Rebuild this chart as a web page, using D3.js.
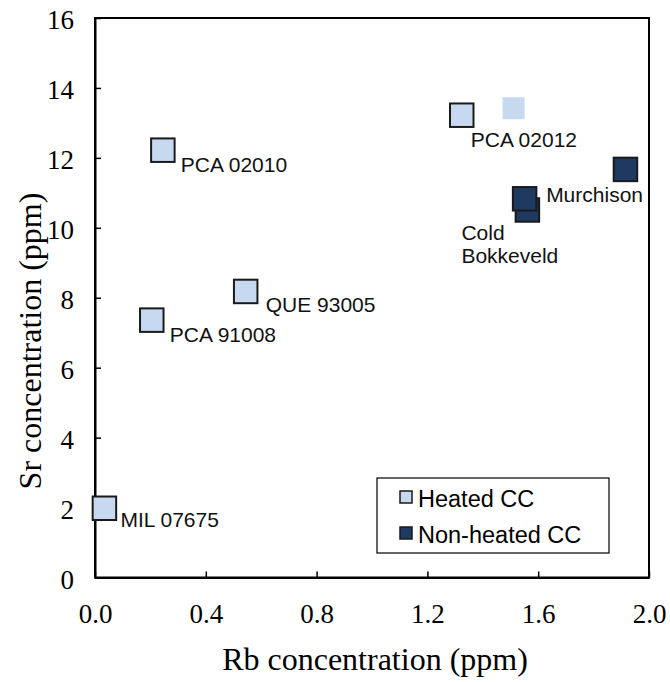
<!DOCTYPE html>
<html>
<head>
<meta charset="utf-8">
<script src="https://cdn.jsdelivr.net/npm/d3@7"></script>
<style>
  html, body { margin: 0; padding: 0; background: #fff; }
  svg { display: block; }
</style>
</head>
<body>
<svg id="chart" width="670" height="682"></svg>
<script>
// ---------------- data ----------------
const heatedNames = ["MIL 07675", "PCA 91008", "QUE 93005", "PCA 02010", "PCA 02012"];
const heatedRb    = [0.034, 0.205, 0.544, 0.245, 1.324];
const heatedSr    = [1.98, 7.36, 8.18, 12.22, 13.22];

const heatedExtraRb = [1.511];   // un-outlined light marker
const heatedExtraSr = [13.42];

const nonHeatedNames = ["Cold Bokkeveld", "Murchison", ""];
const nonHeatedRb    = [1.561, 1.551, 1.915];
const nonHeatedSr    = [10.51, 10.83, 11.67];

const xTicks = [0, 0.4, 0.8, 1.2, 1.6, 2.0];
const yTicks = [0, 2, 4, 6, 8, 10, 12, 14, 16];
const legendLabels = ["Heated CC", "Non-heated CC"];

// ---------------- layout ----------------
const LIGHT = "#c6d9f1", DARK = "#1f3a60", EDGE = "#1a1a1a";
const serif = "'Liberation Serif', 'Times New Roman', serif";
const sans = "'Liberation Sans', Arial, sans-serif";
const plotL = 95, plotR = 649, plotT = 18, plotB = 577.5;

// label offsets (px) from marker centre: [dx, dy]
const labelOffset = {
  "MIL 07675": [16, 19], "PCA 91008": [18, 21.5], "QUE 93005": [20, 20.7],
  "PCA 02010": [18, 21.7], "PCA 02012": [9, 31.5], "Murchison": [21.5, 3],
  "Cold Bokkeveld": [-66, 30]
};

const svg = d3.select("#chart");
const x = d3.scaleLinear().domain([0, 2]).range([plotL, plotR]);
const y = d3.scaleLinear().domain([0, 16]).range([plotB, plotT]);

// frame
svg.append("rect").attr("x", plotL).attr("y", plotT)
  .attr("width", plotR - plotL).attr("height", plotB - plotT)
  .attr("fill", "none").attr("stroke", "#000").attr("stroke-width", 2);

// axes
const xAxis = svg.append("g").attr("transform", `translate(0,${plotB})`)
  .call(d3.axisBottom(x).tickValues(xTicks).tickFormat(d3.format(".1f"))
        .tickSizeInner(-6).tickSizeOuter(0));
xAxis.select(".domain").attr("stroke", "#000").attr("stroke-width", 2);
xAxis.selectAll(".tick line").attr("stroke", "#000").attr("stroke-width", 1.5);
xAxis.selectAll(".tick text").attr("y", 45).attr("dy", null)
  .attr("font-family", serif).attr("font-size", 27).attr("fill", "#000");

const yAxis = svg.append("g").attr("transform", `translate(${plotL},0)`)
  .call(d3.axisLeft(y).tickValues(yTicks).tickFormat(d3.format("d"))
        .tickSizeInner(-6).tickSizeOuter(0));
yAxis.select(".domain").attr("stroke", "#000").attr("stroke-width", 2);
yAxis.selectAll(".tick line").attr("stroke", "#000").attr("stroke-width", 1.5);
yAxis.selectAll(".tick text").attr("x", -21).attr("dy", null).attr("y", 10.5)
  .attr("font-family", serif).attr("font-size", 27).attr("fill", "#000");

// axis titles
svg.append("text").attr("x", (plotL + plotR) / 2 + 3).attr("y", 670)
  .attr("text-anchor", "middle").attr("font-family", serif).attr("font-size", 32)
  .text("Rb concentration (ppm)");
svg.append("text").attr("transform", "translate(41,341) rotate(-90)")
  .attr("text-anchor", "middle").attr("font-family", serif).attr("font-size", 32)
  .text("Sr concentration (ppm)");

// markers
const S = 23.5;
const heated = heatedNames.map((n, i) => ({ name: n, rb: heatedRb[i], sr: heatedSr[i] }));
const extra = heatedExtraRb.map((v, i) => ({ rb: v, sr: heatedExtraSr[i] }));
const nonHeated = nonHeatedNames.map((n, i) => ({ name: n, rb: nonHeatedRb[i], sr: nonHeatedSr[i] }));

svg.append("g").selectAll("rect").data(extra).join("rect")
  .attr("x", d => x(d.rb) - 11).attr("y", d => y(d.sr) - 11)
  .attr("width", 22).attr("height", 22).attr("fill", LIGHT);

svg.append("g").selectAll("rect").data(heated).join("rect")
  .attr("x", d => x(d.rb) - S / 2).attr("y", d => y(d.sr) - S / 2)
  .attr("width", S).attr("height", S)
  .attr("fill", LIGHT).attr("stroke", EDGE).attr("stroke-width", 2);

svg.append("g").selectAll("rect").data(nonHeated).join("rect")
  .attr("x", d => x(d.rb) - S / 2).attr("y", d => y(d.sr) - S / 2)
  .attr("width", S).attr("height", S)
  .attr("fill", DARK).attr("stroke", EDGE).attr("stroke-width", 2);

// point labels
const labelled = heated.concat(nonHeated).filter(d => d.name);
const lab = svg.append("g").attr("font-family", sans).attr("font-size", 21).attr("fill", "#111");
labelled.forEach(d => {
  const off = labelOffset[d.name];
  const t = lab.append("text").attr("x", x(d.rb) + off[0]).attr("y", y(d.sr) + off[1]);
  const words = d.name === "Cold Bokkeveld" ? ["Cold", "Bokkeveld"] : [d.name];
  words.forEach((w, k) => t.append("tspan").attr("x", x(d.rb) + off[0]).attr("dy", k ? 23.5 : 0).text(w));
});

// legend
const lg = svg.append("g");
lg.append("rect").attr("x", 377).attr("y", 478).attr("width", 232).attr("height", 75)
  .attr("fill", "#fff").attr("stroke", "#000").attr("stroke-width", 1.2);
[LIGHT, DARK].forEach((c, i) => {
  lg.append("rect").attr("x", 400).attr("y", 491 + i * 36).attr("width", 12).attr("height", 12)
    .attr("fill", c).attr("stroke", EDGE).attr("stroke-width", 1.5);
  lg.append("text").attr("x", 418).attr("y", 507 + i * 36)
    .attr("font-family", sans).attr("font-size", 23.5).attr("fill", "#000").text(legendLabels[i]);
});
</script>
</body>
</html>
